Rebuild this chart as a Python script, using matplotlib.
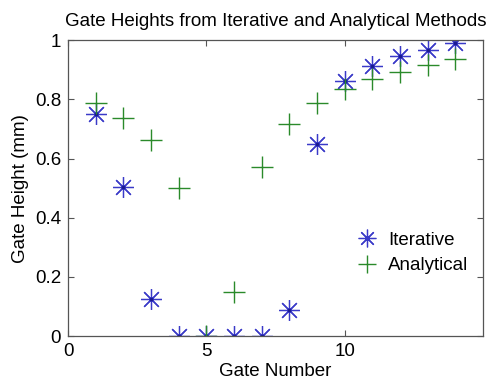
import numpy as np
import matplotlib.pyplot as plt

plt.rcParams['font.family'] = ['Liberation Sans', 'DejaVu Sans']

gate = [1, 2, 3, 4, 5, 6, 7, 8, 9, 10, 11, 12, 13, 14]
iterative = [0.752, 0.503, 0.127, 0.0, 0.0, 0.0, 0.0, 0.09, 0.65, 0.862, 0.912, 0.945, 0.968, 0.99]
analytical = [0.789, 0.736, 0.661, 0.501, 0.0, 0.15, 0.571, 0.717, 0.788, 0.835, 0.868, 0.893, 0.915, 0.936]

xticks = [0, 5, 10]
yticks = [0, 0.2, 0.4, 0.6, 0.8, 1]
ytick_labels = ['0', '0.2', '0.4', '0.6', '0.8', '1']

fig = plt.figure(figsize=(5, 3.82), dpi=100)
ax = fig.add_axes([0.136, 0.12, 0.83, 0.775])

# matlab style asterisk: 8 spokes
ax.plot(gate, iterative, linestyle='none', marker=(8, 2, 0), markersize=15,
        markeredgewidth=0.9, color='#3a3ac8', label='Iterative')
ax.plot(gate, iterative, linestyle='none', marker='.', markersize=3,
        color='#1a1a90')
ax.plot(gate, analytical, linestyle='none', marker='+', markersize=16,
        markeredgewidth=1.0, color='#2a8a2a', label='Analytical')

ax.set_xlim(0, 15)
ax.set_ylim(0, 1)
ax.set_xticks(xticks)
ax.set_yticks(yticks)
ax.set_yticklabels(ytick_labels)
ax.tick_params(direction='in', top=True, right=True, length=4, width=0.8,
               labelsize=13.5, color='#555555', pad=5)
for s in ax.spines.values():
    s.set_color('#555555')
    s.set_linewidth(0.9)

ax.set_title('Gate Heights from Iterative and Analytical Methods', fontsize=13.5, pad=10)
ax.set_xlabel('Gate Number', fontsize=13.5, labelpad=2)
ax.set_ylabel('Gate Height (mm)', fontsize=13.5, labelpad=4)

leg = ax.legend(loc='upper left', bbox_to_anchor=(0.65, 0.41), frameon=False,
                fontsize=13.5, handlelength=1.3, handletextpad=0.5,
                labelspacing=0.45, markerscale=0.85)

fig.savefig('out.png', dpi=100)
